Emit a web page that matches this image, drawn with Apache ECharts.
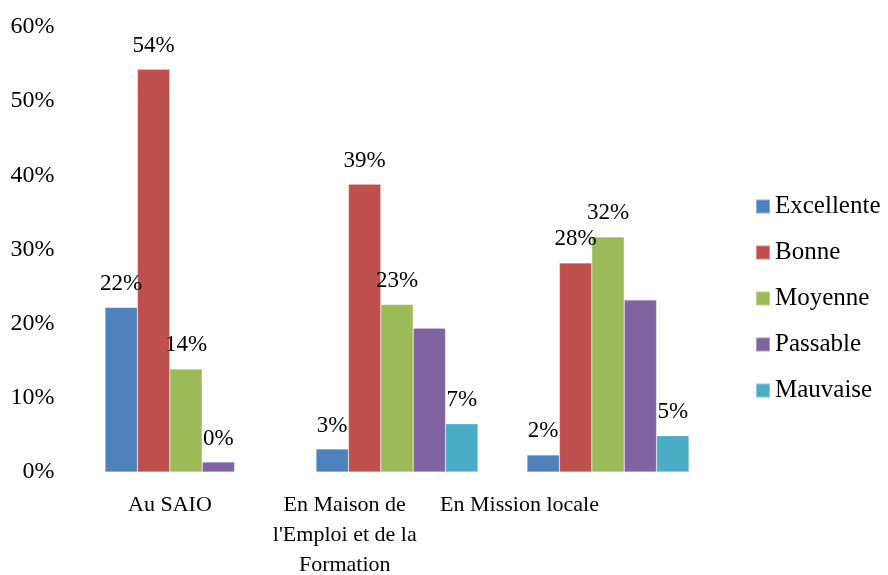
<!DOCTYPE html>
<html>
<head>
<meta charset="utf-8">
<script src="https://cdn.jsdelivr.net/npm/echarts@6/dist/echarts.min.js"></script>
<style>
  html, body { margin: 0; padding: 0; background: #fff; }
  #chart { width: 888px; height: 575px; }
</style>
</head>
<body>
<div id="chart"></div>
<script>
const categories = ['Au SAIO', "En Maison de\nl'Emploi et de la\nFormation", 'En Mission locale'];
const seriesNames = ['Excellente', 'Bonne', 'Moyenne', 'Passable', 'Mauvaise'];

// values in percent
const excellente = [22.2, 3.1, 2.3];
const bonne = [54.3, 38.8, 28.2];
const moyenne = [13.9, 22.6, 31.7];
const passable = [1.35, 19.4, 23.2];
const mauvaise = [0, 6.5, 4.9];

// data labels as printed on the chart ('' = no label)
const excellenteLabels = ['22%', '3%', '2%'];
const bonneLabels = ['54%', '39%', '28%'];
const moyenneLabels = ['14%', '23%', '32%'];
const passableLabels = ['0%', '', ''];
const mauvaiseLabels = ['', '7%', '5%'];

const yTicks = [0, 10, 20, 30, 40, 50, 60];

const colors = ['#4F81BD', '#C0504D', '#9BBB59', '#8064A2', '#4BACC6'];
const values = [excellente, bonne, moyenne, passable, mauvaise];
const labels = [excellenteLabels, bonneLabels, moyenneLabels, passableLabels, mauvaiseLabels];

const font = '"Liberation Serif", "Times New Roman", serif';

const chart = echarts.init(document.getElementById('chart'));

chart.setOption({
  animation: false,
  backgroundColor: '#fff',
  textStyle: { fontFamily: font, color: '#000' },
  grid: [
    { left: 80.5, right: 174.5, top: 27, bottom: 103, outerBoundsMode: 'none' },
    // category labels in the source sit slightly left of their bar groups
    { left: 82.6, width: 524.25, top: 27, bottom: 103, outerBoundsMode: 'none' }
  ],
  legend: {
    orient: 'vertical',
    left: 750,
    top: 189,
    icon: 'rect',
    itemWidth: 14,
    itemHeight: 14,
    itemGap: 21,
    data: seriesNames,
    textStyle: { fontFamily: font, fontSize: 25, color: '#000' }
  },
  xAxis: [
    {
      type: 'category',
      gridIndex: 0,
      data: categories,
      axisLine: { show: false },
      axisTick: { show: false },
      axisLabel: { show: false }
    },
    {
      type: 'category',
      gridIndex: 1,
      data: categories,
      axisLine: { show: false },
      axisTick: { show: false },
      axisLabel: {
        fontFamily: font, fontSize: 22, color: '#000',
        lineHeight: 30, margin: 18, interval: 0
      }
    }
  ],
  yAxis: [
    {
      type: 'value',
      gridIndex: 0,
      min: yTicks[0],
      max: yTicks[yTicks.length - 1],
      interval: 10,
      axisLine: { show: false },
      axisTick: { show: false },
      splitLine: { show: false },
      axisLabel: {
        fontFamily: font, fontSize: 24, color: '#000', margin: 26,
        formatter: v => v + '%'
      }
    },
    { type: 'value', gridIndex: 1, show: false }
  ],
  series: seriesNames.map((name, i) => ({
    name,
    type: 'bar',
    xAxisIndex: 0,
    yAxisIndex: 0,
    data: values[i],
    barWidth: 32.4,
    barGap: 0,
    itemStyle: { color: colors[i], borderColor: 'rgba(255,255,255,0.35)', borderWidth: 0.6 },
    label: {
      show: true,
      position: 'top',
      distance: 12,
      fontFamily: font,
      fontSize: 23,
      color: '#000',
      formatter: p => labels[i][p.dataIndex]
    }
  }))
});
</script>
</body>
</html>
